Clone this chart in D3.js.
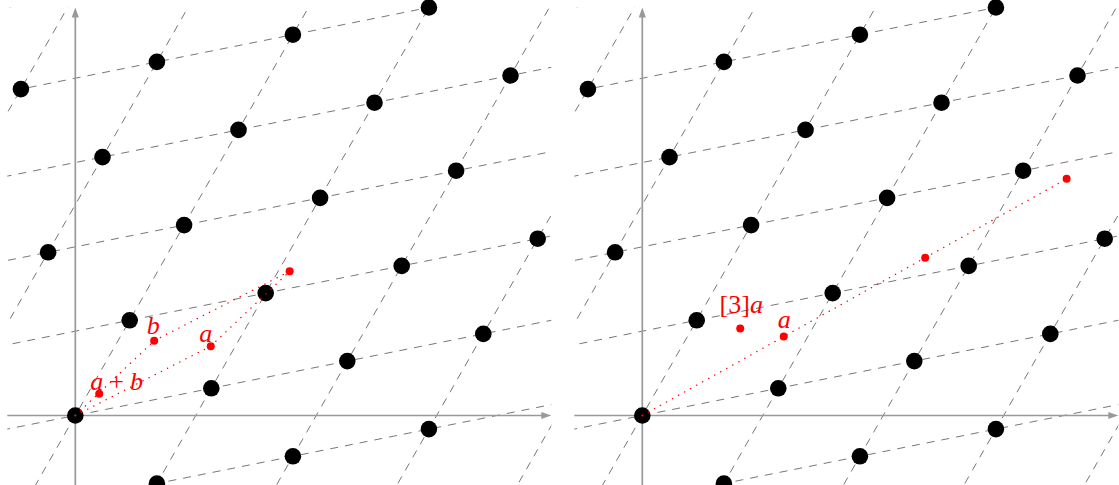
<!DOCTYPE html>
<html><head><meta charset="utf-8">
<script src="https://cdn.jsdelivr.net/npm/d3@7"></script>
<style>html,body{margin:0;padding:0;background:#fff}svg{display:block}</style>
</head><body>
<svg id="chart" width="1119" height="485"></svg>
<script>
// ---- data (data units) ----
const basisV1 = [5, 1];
const basisV2 = [2, 3.5];
// integer combinations i*v1 + j*v2 of the lattice points that are visible
const latticeI = [-2, -1, 0, 1, 2, -1, 0, 1, -1, 0, 1, 2, 0, 1, 2, 3, 0, 1, 2, 3, 1, 2, 3];
const latticeJ = [ 4,  4, 4, 4, 3,  3, 3, 3,  2, 2, 2, 2, 1, 1, 1, 1, 0, 0, 0, 0, -1, -1, -1];
// dashed grid lines through k*v1 (direction v2) and through k*v2 (direction v1)
const gridK = [-8, -7, -6, -5, -4, -3, -2, -1, 0, 1, 2, 3, 4, 5, 6, 7, 8];
const xDomain = [-2.5, 17.5];
const yDomain = [-3, 15];

// left panel
const leftNames  = ["O", "a", "b", "ab", "abRed"];
const leftX      = [0, 4.98, 2.90, 7.88, 0.88];
const leftY      = [0, 2.55, 2.75, 5.30, 0.80];
const leftLabels = ["", "a", "b", "", "a + b"];
const leftSegments = [["O", "a"], ["O", "b"], ["a", "ab"], ["b", "ab"]];

// right panel
const rightNames  = ["O", "a", "a2", "a3", "a3Red"];
const rightX      = [0, 5.2, 10.4, 15.6, 3.6];
const rightY      = [0, 2.9, 5.8, 8.7, 3.2];
const rightLabels = ["", "a", "", "", "[3]a"];
const rightSegments = [["O", "a3"]];

// ---- layout / style ----
const panelW = 544, panelH = 489.6;
const panelLeft = [7.3, 574.3];
const panelTop = 7.5;
const labelStyle = {
  "a|0": {anchor: "middle", dx: -5, dy: -4.5},
  "b|0": {anchor: "middle", dx: -1, dy: -6.5},
  "a + b|0": {anchor: "start", dx: -9, dy: -3.5},
  "a|1": {anchor: "middle", dx: 0.5, dy: -8.5},
  "[3]a|1": {anchor: "middle", dx: 1, dy: -15.5}
};

const svg = d3.select("#chart");
const defs = svg.append("defs");

function drawPanel(pi, names, xs, ys, labels, segments) {
  const x = d3.scaleLinear().domain(xDomain).range([panelLeft[pi], panelLeft[pi] + panelW]);
  const y = d3.scaleLinear().domain(yDomain).range([panelTop + panelH, panelTop]);
  const g = svg.append("g");
  const clipId = "clip" + pi;
  defs.append("clipPath").attr("id", clipId).append("rect")
    .attr("x", x(xDomain[0])).attr("y", y(yDomain[1]))
    .attr("width", x(xDomain[1]) - x(xDomain[0]))
    .attr("height", y(yDomain[0]) - y(yDomain[1]));

  // dashed lattice lines
  const gl = g.append("g").attr("clip-path", `url(#${clipId})`);
  const line = d3.line().x(d => x(d[0])).y(d => y(d[1]));
  const segs = [];
  gridK.forEach(k => {
    const p = [k * basisV1[0], k * basisV1[1]];
    segs.push([[p[0] - 8 * basisV2[0], p[1] - 8 * basisV2[1]], [p[0] + 8 * basisV2[0], p[1] + 8 * basisV2[1]]]);
    const q = [k * basisV2[0], k * basisV2[1]];
    segs.push([[q[0] - 8 * basisV1[0], q[1] - 8 * basisV1[1]], [q[0] + 8 * basisV1[0], q[1] + 8 * basisV1[1]]]);
  });
  gl.selectAll("path.grid").data(segs).join("path")
    .attr("class", "grid").attr("d", line)
    .attr("fill", "none").attr("stroke", "#777").attr("stroke-width", 1)
    .attr("stroke-dasharray", "8,7");

  // axes with arrow heads
  const axColor = "#999";
  const x0 = x(xDomain[0]), x1 = x(xDomain[1]), yz = y(0);
  const yb = y(yDomain[0]), yt = y(yDomain[1]), xz = x(0);
  g.append("line").attr("x1", x0).attr("y1", yz).attr("x2", x1 - 8).attr("y2", yz)
    .attr("stroke", axColor).attr("stroke-width", 1.7);
  g.append("path").attr("d", `M${x1},${yz} L${x1 - 10},${yz - 3.6} L${x1 - 10},${yz + 3.6} Z`)
    .attr("fill", axColor);
  g.append("line").attr("x1", xz).attr("y1", yb).attr("x2", xz).attr("y2", yt + 8)
    .attr("stroke", axColor).attr("stroke-width", 1.7);
  g.append("path").attr("d", `M${xz},${yt} L${xz - 3.6},${yt + 10} L${xz + 3.6},${yt + 10} Z`)
    .attr("fill", axColor);

  // lattice points
  const pts = latticeI.map((i, n) => {
    const j = latticeJ[n];
    return [i * basisV1[0] + j * basisV2[0], i * basisV1[1] + j * basisV2[1]];
  });
  g.selectAll("circle.lat").data(pts).join("circle")
    .attr("class", "lat").attr("cx", d => x(d[0])).attr("cy", d => y(d[1]))
    .attr("r", 8.3).attr("fill", "#000");

  // red dotted segments
  const pos = {};
  names.forEach((n, k) => pos[n] = [xs[k], ys[k]]);
  g.selectAll("path.red").data(segments).join("path")
    .attr("class", "red")
    .attr("d", s => line([pos[s[0]], pos[s[1]]]))
    .attr("fill", "none").attr("stroke", "#ff0000").attr("stroke-width", 1.3)
    .attr("stroke-linecap", "round")
    .attr("stroke-dasharray", "0.3,6.6");

  // red points (not at origin)
  const redPts = names.map((n, k) => ({n, x: xs[k], y: ys[k], label: labels[k]})).filter(d => d.n !== "O");
  g.selectAll("circle.red").data(redPts).join("circle")
    .attr("class", "red").attr("cx", d => x(d.x)).attr("cy", d => y(d.y))
    .attr("r", 4).attr("fill", "#ff0000");
  // small red dot at origin
  g.append("circle").attr("cx", x(0)).attr("cy", y(0)).attr("r", 1).attr("fill", "#ff0000");

  // labels
  redPts.filter(d => d.label).forEach(d => {
    const st = labelStyle[d.label + "|" + pi];
    const t = g.append("text")
      .attr("x", x(d.x) + st.dx).attr("y", y(d.y) + st.dy)
      .attr("text-anchor", st.anchor)
      .attr("font-family", "'Liberation Serif', 'DejaVu Serif', serif")
      .attr("font-size", 26).attr("fill", "#ff0000");
    if (d.label === "a + b") {
      t.append("tspan").attr("font-style", "italic").text("a");
      t.append("tspan").attr("dx", 6).text("+");
      t.append("tspan").attr("dx", 6).attr("font-style", "italic").text("b");
    } else if (d.label === "[3]a") {
      t.append("tspan").text("[3]");
      t.append("tspan").attr("font-style", "italic").text("a");
    } else {
      t.append("tspan").attr("font-style", "italic").text(d.label);
    }
  });
}

drawPanel(0, leftNames, leftX, leftY, leftLabels, leftSegments);
drawPanel(1, rightNames, rightX, rightY, rightLabels, rightSegments);
</script>
</body></html>
